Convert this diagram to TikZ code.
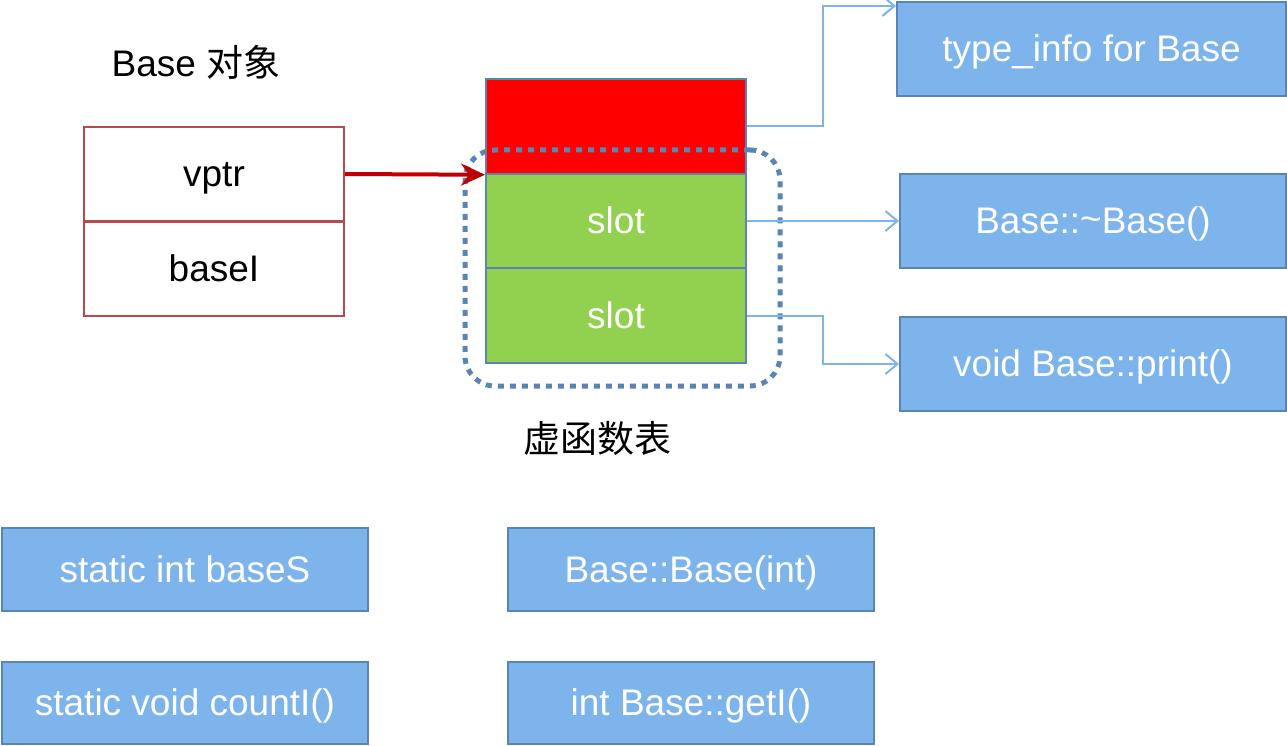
\documentclass[tikz,border=0pt]{standalone}
\usepackage{fontspec}
\setmainfont{Liberation Sans}
\newfontfamily\cjk{Noto Sans CJK SC}
\usetikzlibrary{arrows.meta}
\definecolor{boxfill}{HTML}{7DB4EC}
\definecolor{boxline}{HTML}{5A84B4}
\definecolor{objline}{HTML}{B94A48}
\definecolor{slotgreen}{HTML}{92D050}
\definecolor{vred}{HTML}{FF0000}
\definecolor{arrowblue}{HTML}{7DB4EC}
\definecolor{ptrred}{HTML}{C00000}
\tikzset{
  lbl/.style={font=\fontsize{37}{44}\selectfont, inner sep=0pt, text height=33.5pt, text depth=7.8pt},
  bluebox/.style={lbl, draw=boxline, fill=boxfill, line width=2pt, text=white},
  objcell/.style={lbl, draw=objline, line width=2pt, minimum width=260pt, minimum height=94pt},
  vcell/.style={lbl, draw=boxline, line width=2pt, text=white, minimum width=260pt, minimum height=94.5pt},
  link/.style={draw=arrowblue, line width=2pt, -{Straight Barb[length=12pt,width=20pt,line width=2pt]}},
  ptr/.style={draw=ptrred, line width=4pt, -{Stealth[length=24pt,width=22pt,inset=8pt]}},
  group/.style={draw=boxline, line width=5pt, dash pattern=on 6pt off 6pt, rounded corners=30pt}
}
\begin{document}
\begin{tikzpicture}[x=1pt,y=-1pt]
\useasboundingbox (0,0) rectangle (1287,746);

% Base object
\node[lbl] (title) at (196,64) {Base {\cjk 对象}};
\node[objcell] (vptr) at (214,174) {vptr};
\node[objcell] (basei) at (214,268.5) {baseI};

% vtable
\node[vcell, fill=vred] (vtop) at (616,126.5) {};
\node[vcell, fill=slotgreen] (slot1) at (616,221) {slot};
\node[vcell, fill=slotgreen] (slot2) at (616,315.5) {slot};
\node[group, minimum width=315pt, minimum height=236pt, inner sep=0pt] (grp) at (622.5,268) {};
\node[lbl] (vtlabel) at (597,440) {\cjk 虚函数表};

% targets
\node[bluebox, minimum width=389pt, minimum height=94pt] (ti) at (1091.5,49) {type\_info for Base};
\node[bluebox, minimum width=386pt, minimum height=94pt] (dtor) at (1093,221) {Base::\raisebox{0.1ex}{\char`~}Base()};
\node[bluebox, minimum width=386pt, minimum height=94pt] (prt) at (1093,364) {void Base::print()};

% bottom boxes
\node[bluebox, minimum width=366pt, minimum height=83pt] (bs) at (185,569.5) {static int baseS};
\node[bluebox, minimum width=366pt, minimum height=83pt] (ctor) at (691,569.5) {Base::Base(int)};
\node[bluebox, minimum width=366pt, minimum height=82pt] (cnt) at (185,703) {static void countI()};
\node[bluebox, minimum width=366pt, minimum height=82pt] (geti) at (691,703) {int Base::getI()};

% connectors
\draw[ptr] (vptr.east) -- (vtop.south west);
\draw[link] (vtop.east) -- ++(76,0) |- ([yshift=-5pt]ti.north west);
\draw[link] (slot1.east) -- (dtor.west);
\draw[link] (slot2.east) -- ++(76,0) |- (prt.west);
\end{tikzpicture}
\end{document}
